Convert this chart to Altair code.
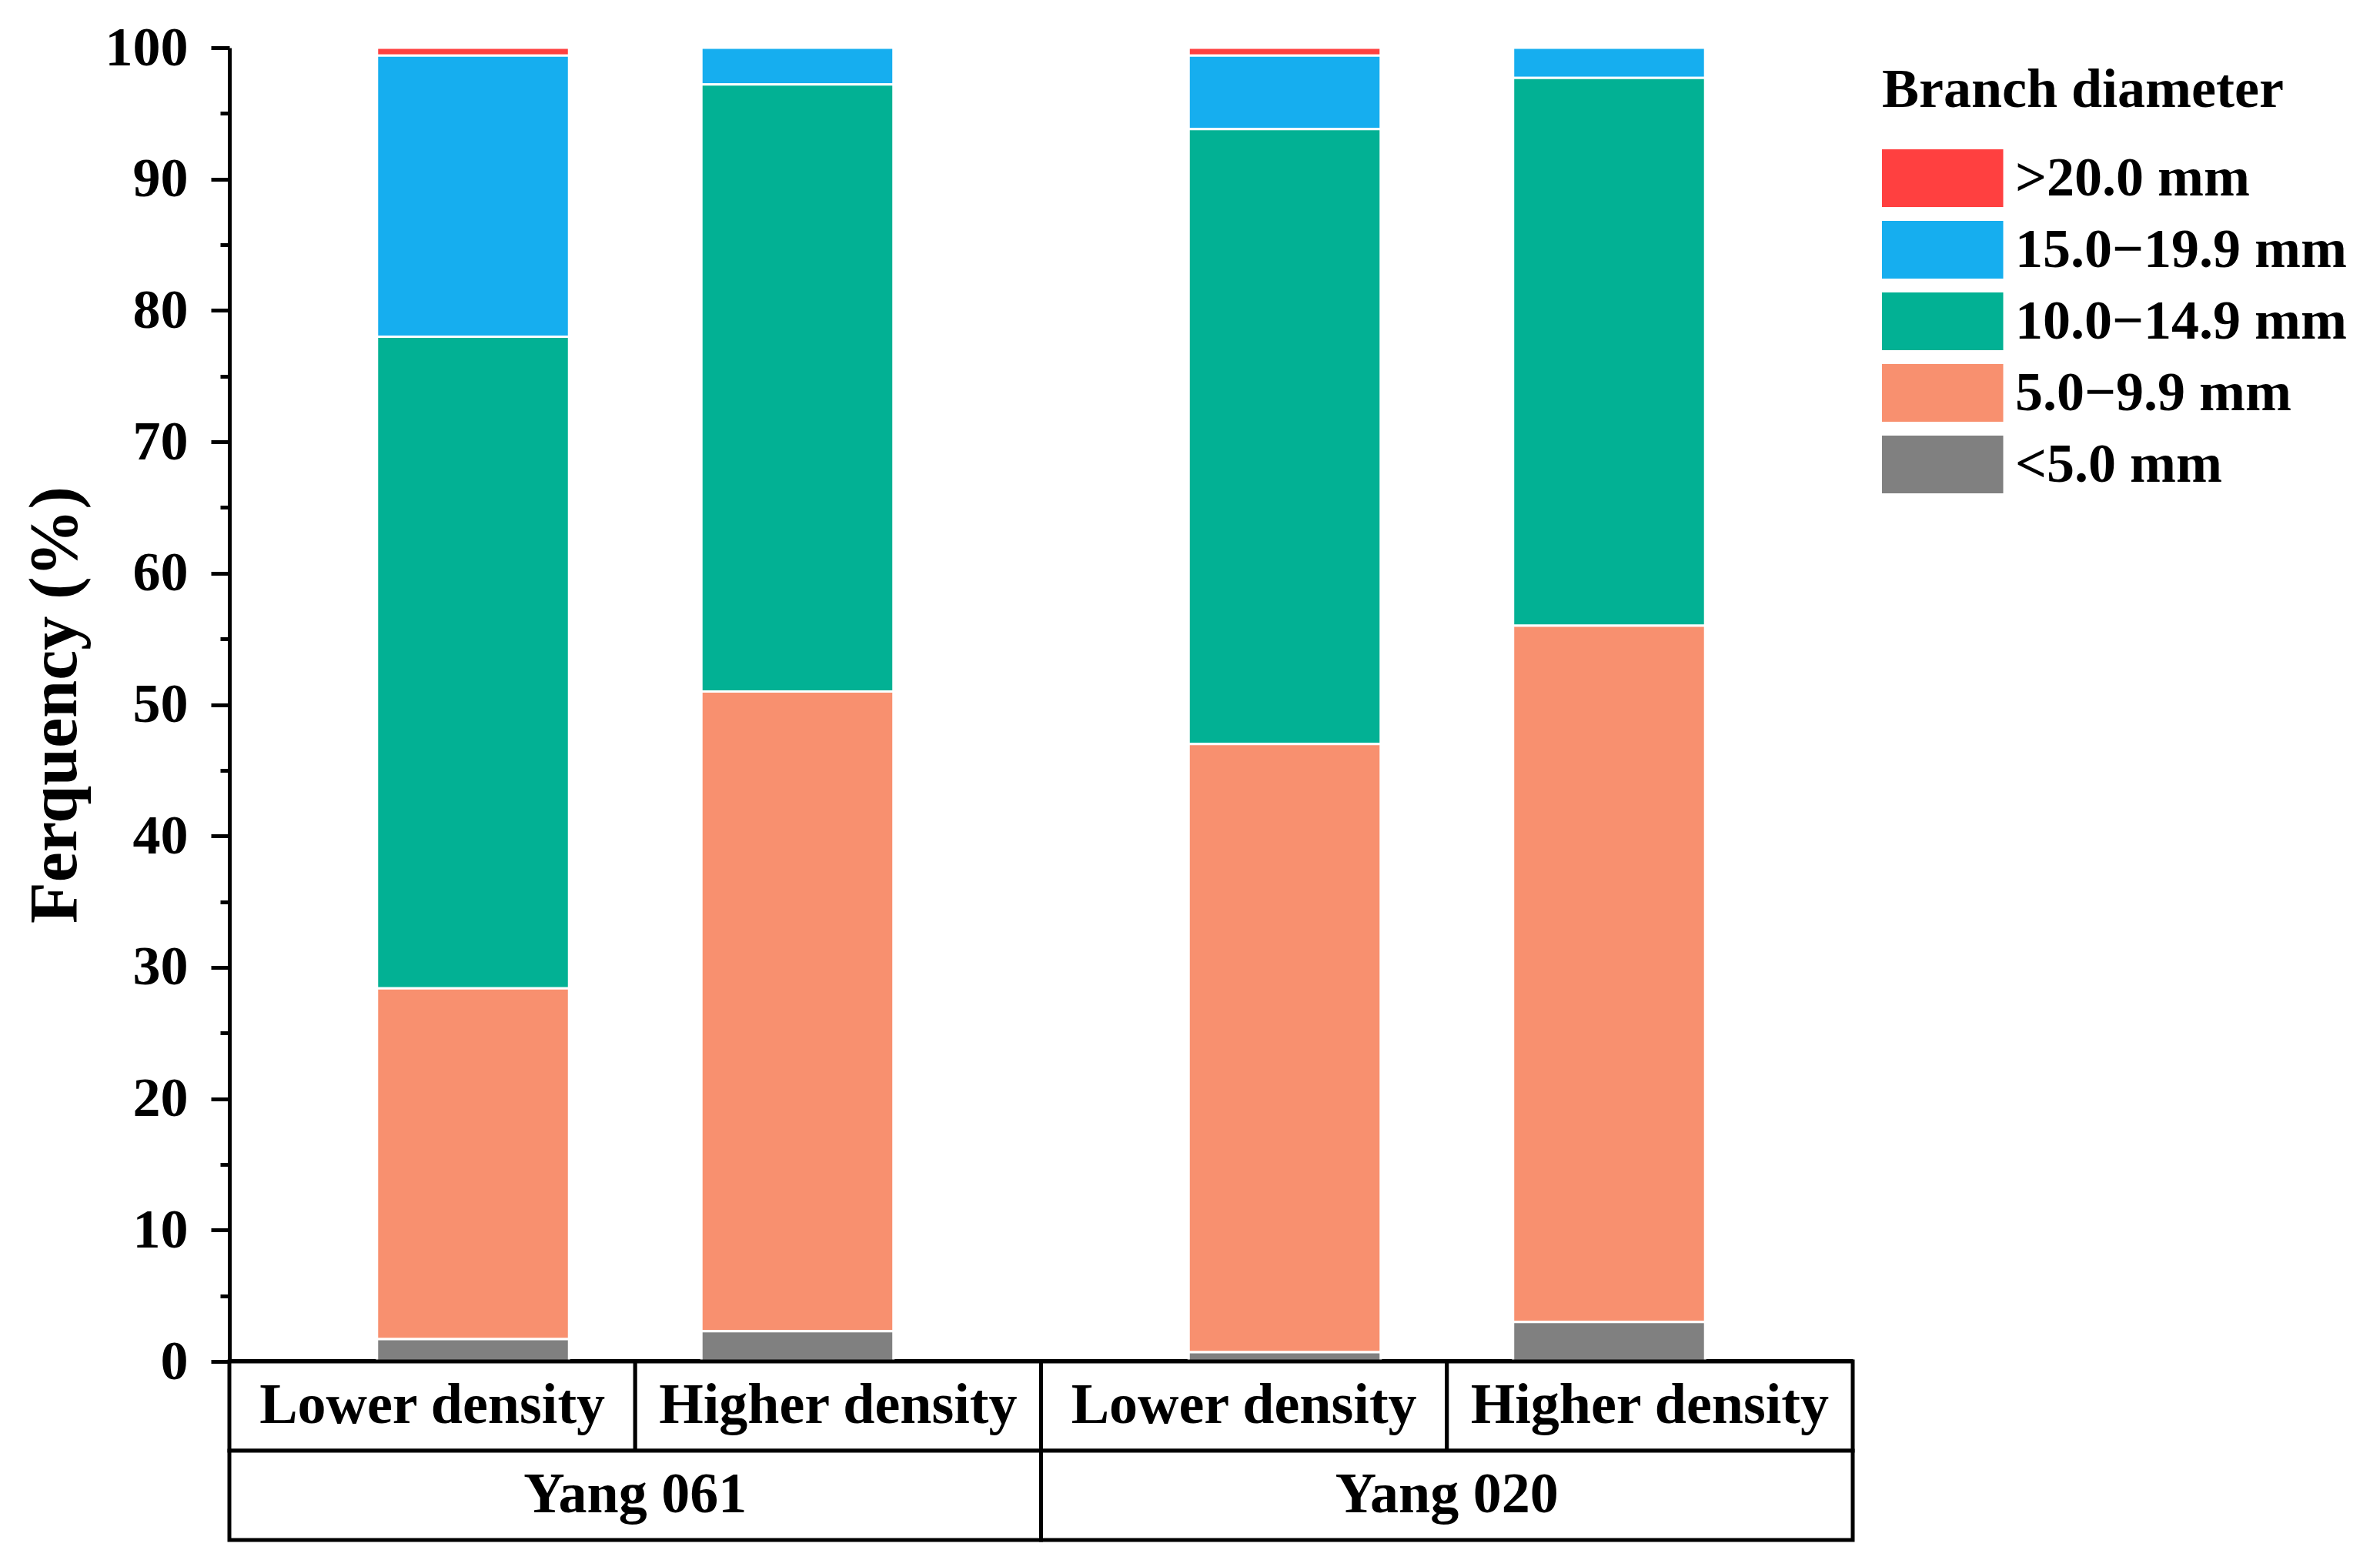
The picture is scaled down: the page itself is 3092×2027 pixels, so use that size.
import altair as alt
import pandas as pd

FONT = "Liberation Serif"

cultivars = ["Yang 061", "Yang 020"]
densities = ["Lower density", "Higher density"]
classes = [">20.0 mm", "15.0\u221219.9 mm", "10.0\u221214.9 mm", "5.0\u22129.9 mm", "<5.0 mm"]
colors = ["#FF4040", "#16AEEF", "#02B194", "#F8906F", "#808080"]

# bars: Yang 061 Lower, Yang 061 Higher, Yang 020 Lower, Yang 020 Higher
bar_cultivar = ["Yang 061", "Yang 061", "Yang 020", "Yang 020"]
bar_density = ["Lower density", "Higher density", "Lower density", "Higher density"]
gt20 = [0.6, 0.0, 0.6, 0.0]
d15_19 = [21.4, 2.8, 5.6, 2.3]
d10_14 = [49.6, 46.2, 46.8, 41.7]
d5_9 = [26.7, 48.7, 46.3, 53.0]
lt5 = [1.7, 2.3, 0.7, 3.0]

series = [gt20, d15_19, d10_14, d5_9, lt5]
rows = []
for ci, (cls, vals) in enumerate(zip(classes, series)):
    for cv, dn, v in zip(bar_cultivar, bar_density, vals):
        if v > 0:
            rows.append({"cultivar": cv, "density": dn, "cls": cls, "value": v,
                         "stack": len(classes) - 1 - ci})
df = pd.DataFrame(rows)

W = 2109
H = 1707
TH = 232

bars = alt.Chart(df).mark_bar(stroke="white", strokeWidth=3).encode(
    x=alt.X("cultivar:N", sort=cultivars,
            scale=alt.Scale(paddingInner=0, paddingOuter=0),
            axis=alt.Axis(title=None, labels=False, ticks=False, domainWidth=7,
                          domainColor="black", minExtent=0, maxExtent=0)),
    xOffset=alt.XOffset("density:N", sort=densities,
                        scale=alt.Scale(paddingInner=0.408, paddingOuter=0.455)),
    y=alt.Y("value:Q", stack="zero",
            scale=alt.Scale(domain=[0, 100], nice=False),
            axis=alt.Axis(values=list(range(0, 101, 5)),
                          labelExpr="datum.value % 10 === 0 ? datum.label : ''",
                          tickSize={"condition": {"test": "datum.value % 10 === 0", "value": 24}, "value": 12},
                          tickWidth=5, tickColor="black", domainWidth=5, domainColor="black",
                          grid=False, labelFont=FONT, labelFontSize=72, labelFontWeight="bold",
                          labelColor="black", labelPadding=30,
                          title="Ferquency (%)", titleFont=FONT, titleFontSize=88,
                          titleFontWeight="bold", titleColor="black", titlePadding=20)),
    color=alt.Color("cls:N", scale=alt.Scale(domain=classes, range=colors),
                    legend=alt.Legend(title="Branch diameter", orient="none",
                                      legendX=W + 38, legendY=20,
                                      titleFont=FONT, titleFontSize=72, titleFontWeight="bold",
                                      titleColor="black", titlePadding=40, titleLimit=2000,
                                      labelFont=FONT, labelFontSize=72, labelFontWeight="bold",
                                      labelColor="black", labelLimit=2000,
                                      symbolType="M-1,-1H3.2V1H-1Z", symbolSize=5625,
                                      symbolStrokeWidth=0, symbolOpacity=1,
                                      labelOffset=98, rowPadding=18)),
    order=alt.Order("stack:Q", sort="ascending"),
).properties(width=W, height=H)

cells1 = pd.DataFrame({"cultivar": bar_cultivar, "density": bar_density, "row": ["r1"] * 4})
cells2 = pd.DataFrame({"cultivar": cultivars, "row": ["r2"] * 2})

xs = alt.X("cultivar:N", sort=cultivars, scale=alt.Scale(paddingInner=0, paddingOuter=0), axis=None)
ys = alt.Y("row:N", sort=["r1", "r2"], scale=alt.Scale(paddingInner=0, paddingOuter=0), axis=None)
xo = alt.XOffset("density:N", sort=densities, scale=alt.Scale(paddingInner=0, paddingOuter=0))

r1 = alt.Chart(cells1).mark_rect(fill="white", stroke="black", strokeWidth=5).encode(x=xs, xOffset=xo, y=ys)
r2 = alt.Chart(cells2).mark_rect(fill="white", stroke="black", strokeWidth=5).encode(x=xs, y=ys)
t1 = alt.Chart(cells1).mark_text(font=FONT, fontSize=74, fontWeight="bold", color="black").encode(
    x=xs, xOffset=xo, y=ys, text="density:N")
t2 = alt.Chart(cells2).mark_text(font=FONT, fontSize=74, fontWeight="bold", color="black").encode(
    x=xs, y=ys, text="cultivar:N")

table = alt.layer(r1, r2, t1, t2).properties(width=W, height=TH)

chart = alt.vconcat(bars, table, spacing=0, bounds="flush").resolve_scale(
    x="independent", xOffset="independent", y="independent"
).properties(
    padding={"top": 18, "left": 20, "right": 5, "bottom": 5},
    background="white",
).configure_view(stroke=None)

chart.save("out.html", embed_options={"renderer": "svg", "actions": False})
